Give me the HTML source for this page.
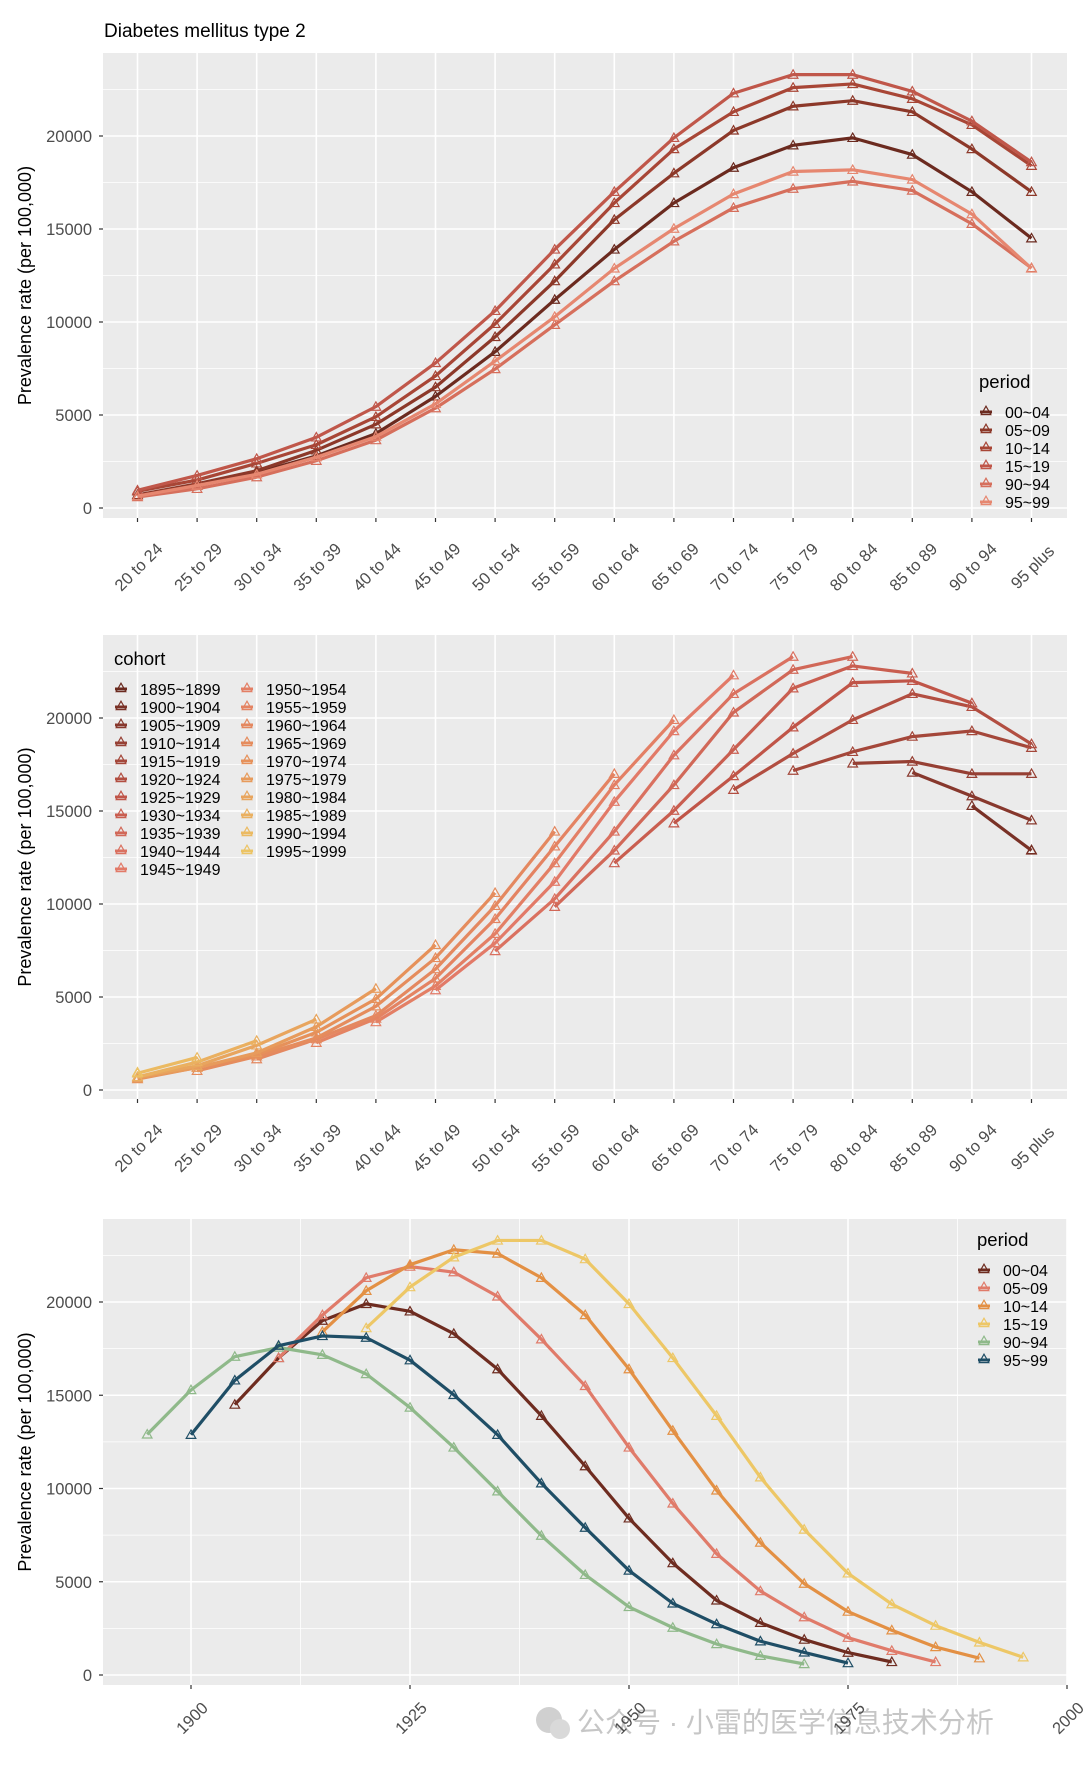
<!DOCTYPE html>
<html><head><meta charset="utf-8">
<style>
html,body{margin:0;padding:0;background:#fff;}
svg{display:block;font-family:"Liberation Sans","Noto Sans CJK SC",sans-serif;}
</style></head>
<body>
<svg id="chart" width="1089" height="1771" viewBox="0 0 1089 1771" xmlns="http://www.w3.org/2000/svg">
<rect x="0" y="0" width="1089" height="1771" fill="#fff"/>
<text x="104" y="37" font-size="19" fill="#000">Diabetes mellitus type 2</text>
<g opacity="0.55">
<circle cx="549" cy="1720" r="13" fill="#aaa"/>
<circle cx="560" cy="1729" r="10" fill="#bbb"/>
<text x="577" y="1732" font-size="28" fill="#999">公众号 · 小雷的医学信息技术分析</text>
</g>
</svg>
<script>
const ages = ["20 to 24","25 to 29","30 to 34","35 to 39","40 to 44","45 to 49","50 to 54","55 to 59","60 to 64","65 to 69","70 to 74","75 to 79","80 to 84","85 to 89","90 to 94","95 plus"];
const periods = ["00~04","05~09","10~14","15~19","90~94","95~99"];
const periodStartCohort = [1980,1985,1990,1995,1970,1975];
const p0004 = [700,1200,1900,2800,4000,6000,8400,11200,13900,16400,18300,19500,19900,19000,17000,14500];
const p0509 = [700,1300,2000,3100,4500,6500,9200,12200,15500,18000,20300,21600,21900,21300,19300,17000];
const p1014 = [900,1500,2400,3400,4900,7100,9900,13100,16400,19300,21300,22600,22800,22000,20600,18400];
const p1519 = [950,1750,2650,3800,5450,7800,10600,13900,17000,19900,22300,23300,23300,22400,20800,18600];
const p9094 = [590,1030,1660,2540,3650,5370,7470,9850,12200,14340,16140,17170,17560,17070,15280,12900];
const p9599 = [640,1210,1810,2730,3840,5600,7900,10280,12880,15020,16880,18090,18180,17660,15800,12880];
const periodValues = [p0004,p0509,p1014,p1519,p9094,p9599];
const cohorts = [1895,1900,1905,1910,1915,1920,1925,1930,1935,1940,1945,1950,1955,1960,1965,1970,1975,1980,1985,1990,1995];
const yTicks = [0,5000,10000,15000,20000];
const yearTicks = [1900,1925,1950,1975,2000];

const NS="http://www.w3.org/2000/svg";
const svg=document.getElementById('chart');
function mk(tag,attrs,parent){const e=document.createElementNS(NS,tag);for(const k in attrs)e.setAttribute(k,attrs[k]);(parent||svg).appendChild(e);return e;}

const pal1=["#6B2A1F","#8C3829","#A84636","#C0574A","#D66F5C","#E68770"];
const pal3=["#6E2C20","#E07B6A","#E39044","#EDC766","#8FB98A","#1F4E66"];
const cstops=[[0,[107,42,31]],[0.3,[192,85,72]],[0.5,[226,122,104]],[0.75,[230,145,90]],[1,[236,196,100]]];
function cohortColor(t){for(let i=0;i<cstops.length-1;i++){const a=cstops[i],b=cstops[i+1];if(t<=b[0]){const f=(t-a[0])/(b[0]-a[0]);const c=a[1].map((v,j)=>Math.round(v+(b[1][j]-v)*f));return `rgb(${c[0]},${c[1]},${c[2]})`;}}return "rgb(236,196,100)";}

const L=103,R=1067;
function xAge(i){return 137.5+i*(1031.5-137.5)/15;}
function xYear(y){return 191+(y-1900)*8.76;}

function panel(name,top,bottom,y0,y20){
  const g=mk('g',{});  
  mk('rect',{x:L,y:top,width:R-L,height:bottom-top,fill:'#EBEBEB'},g);
  const yv=v=>y0+(y20-y0)*v/20000;
  return {g,yv};
}
function yAxis(p,top,bottom){
  const g=p.g;
  for(let v=2500;v<25000;v+=5000){const y=p.yv(v);if(y>top&&y<bottom)mk('line',{x1:L,x2:R,y1:y,y2:y,stroke:'#fff','stroke-width':0.8},g);}
  yTicks.forEach(v=>{const y=p.yv(v);
    const l=mk('line',{x1:L,x2:R,y1:y,y2:y,stroke:'#fff','stroke-width':1.6},g);
    
    mk('line',{x1:L-4,x2:L,y1:y,y2:y,stroke:'#333','stroke-width':1.2},g);
    const t=mk('text',{x:L-11,y:y+6,'text-anchor':'end','font-size':16.5,fill:'#4D4D4D'},g);t.textContent=v;
    
  });
  const cy=(top+bottom)/2;
  const tt=mk('text',{x:0,y:0,'text-anchor':'middle','font-size':18,fill:'#000',transform:`translate(31,${cy}) rotate(-90)`},g);
  tt.textContent='Prevalence rate (per 100,000)';
  
}
function ageAxis(p,top,bottom){
  const g=p.g;
  ages.forEach((a,i)=>{const x=xAge(i);
    mk('line',{x1:x,x2:x,y1:top,y2:bottom,stroke:'#fff','stroke-width':1.6},g);
    mk('line',{x1:x,x2:x,y1:bottom,y2:bottom+4,stroke:'#333','stroke-width':1.2},g);
    const t=mk('text',{x:0,y:0,'text-anchor':'middle','font-size':16.5,fill:'#4D4D4D',transform:`translate(${x+5},${bottom+53}) rotate(-45)`},g);
    t.textContent=a;
  });
}
function tri(g,x,y,col){const s=4.8;mk('polygon',{points:`${x},${y-s} ${x-s},${y+s*0.75} ${x+s},${y+s*0.75}`,fill:'none',stroke:col,'stroke-width':1.2},g);}
function series(g,pts,col,name){
  const sg=mk('g',{},g);
  if(pts.length>1)mk('polyline',{points:pts.map(p=>p.join(',')).join(' '),fill:'none',stroke:col,'stroke-width':3.2,'stroke-linejoin':'round'},sg);
  pts.forEach(p=>tri(sg,p[0],p[1],col));
}
function legend(g,x,y,title,labels,colors,rowsPerCol,colW,name){
  const lg=mk('g',{},g);
  const t=mk('text',{x:x,y:y,'font-size':18.5,fill:'#000'},lg);t.textContent=title;
  labels.forEach((lab,i)=>{const c=Math.floor(i/rowsPerCol),r=i%rowsPerCol;
    const kx=x+7+c*colW,ky=y+24+r*18;
    const e=mk('g',{},lg);
    mk('line',{x1:kx-6,x2:kx+6,y1:ky,y2:ky,stroke:colors[i],'stroke-width':3},e);
    tri(e,kx,ky-1,colors[i]);
    const tx=mk('text',{x:kx+19,y:ky+6,'font-size':16,fill:'#000'},e);tx.textContent=lab;
  });
}

// Panel 1
const p1=panel('panel-period-by-age',53,518,508,136);
yAxis(p1,53,518);ageAxis(p1,53,518);
periods.forEach((per,k)=>{const pts=periodValues[k].map((v,i)=>[xAge(i),p1.yv(v)]);series(p1.g,pts,pal1[k],'period-line-'+per);});
legend(p1.g,979,388,'period',periods,pal1,6,0,'period-legend');

// Panel 2
const p2=panel('panel-cohort-by-age',635,1099,1090,718);
yAxis(p2,635,1099);ageAxis(p2,635,1099);
const ccols=cohorts.map((c,i)=>cohortColor(i/(cohorts.length-1)));
cohorts.forEach((c,ci)=>{const pts=[];
  for(let i=0;i<ages.length;i++){periods.forEach((per,k)=>{if(periodStartCohort[k]-5*i===c)pts.push([xAge(i),p2.yv(periodValues[k][i])]);});}
  series(p2.g,pts,ccols[ci],'cohort-line-'+c);});
legend(p2.g,114,665,'cohort',cohorts.map(c=>c+'~'+(c+4)),ccols,11,126,'cohort-legend');

// Panel 3
const p3=panel('panel-period-by-cohort',1219,1685,1675,1302);
yAxis(p3,1219,1685);
for(let y=1887.5;y<2000;y+=25){const x=xYear(y);if(x>L)mk('line',{x1:x,x2:x,y1:1219,y2:1685,stroke:'#fff','stroke-width':0.8},p3.g);}
yearTicks.forEach(yr=>{const x=xYear(yr);
  mk('line',{x1:x,x2:x,y1:1219,y2:1685,stroke:'#fff','stroke-width':1.6},p3.g);
  mk('line',{x1:x,x2:x,y1:1685,y2:1689,stroke:'#333','stroke-width':1.2},p3.g);
  const t=mk('text',{x:0,y:0,'text-anchor':'middle','font-size':16.5,fill:'#4D4D4D',transform:`translate(${x+5},${1722}) rotate(-45)`},p3.g);
  t.textContent=yr;});
periods.forEach((per,k)=>{const pts=periodValues[k].map((v,i)=>[xYear(periodStartCohort[k]-5*i),p3.yv(v)]).reverse();series(p3.g,pts,pal3[k],'period-cohort-line-'+per);});
legend(p3.g,977,1246,'period',periods,pal3,6,0,'period-legend-cohort');
</script>
</body></html>
